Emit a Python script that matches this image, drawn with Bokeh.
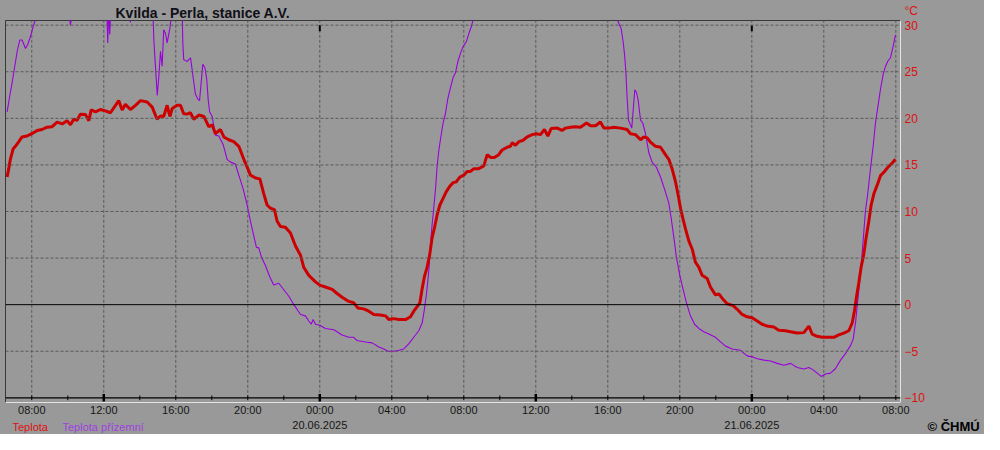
from bokeh.plotting import figure
from bokeh.layouts import column
from bokeh.models import Range1d, FixedTicker, Span, Label
from bokeh.embed import file_html
from bokeh.resources import INLINE

TITLE = "Kvilda - Perla, stanice A.V."
SERIES_NAMES = ["Teplota", "Teplota přízemní"]
UNIT = "°C"
COPYRIGHT = "© ČHMÚ"

# hours since 19.06.2025 00:00
tick_hours = [8, 12, 16, 20, 24, 28, 32, 36, 40, 44, 48, 52, 56]
tick_labels = ["08:00", "12:00", "16:00", "20:00", "00:00", "04:00",
               "08:00", "12:00", "16:00", "20:00", "00:00", "04:00", "08:00"]
date_hours = [24, 48]
date_labels = ["20.06.2025", "21.06.2025"]
y_ticks = [-10, -5, 0, 5, 10, 15, 20, 25, 30]

teplota_h = [6.63, 6.72, 6.81, 6.96, 7.09, 7.28, 7.46, 7.74, 8.0, 8.30, 8.57, 8.85, 9.13, 9.41, 9.69,
             9.96, 10.15, 10.33, 10.52, 10.70, 10.98, 11.17, 11.30, 11.54, 11.81, 12.09, 12.37, 12.65,
             12.83, 13.02, 13.20, 13.48, 13.76, 14.04, 14.41, 14.69, 14.96, 15.15, 15.33, 15.52, 15.67,
             15.80, 16.07, 16.26, 16.44, 16.63, 16.81, 17.0, 17.28, 17.56, 17.83, 18.02, 18.20, 18.48,
             18.67, 18.94, 19.22, 19.50, 19.78, 20.0, 20.15, 20.43, 20.67, 20.89, 21.07, 21.26, 21.48,
             21.63, 21.81, 22.09, 22.37, 22.65, 22.93, 23.11, 23.39, 23.76, 24.0, 24.31, 24.69, 24.96,
             25.24, 25.61, 25.89, 26.11, 26.44, 26.72, 27.0, 27.37, 27.65, 27.83, 28.11, 28.39, 28.76,
             29.04, 29.22, 29.41, 29.56, 29.69, 29.81, 29.96, 30.11, 30.24, 30.37, 30.52, 30.67, 30.85,
             31.02, 31.22, 31.41, 31.59, 31.78, 32.0, 32.19, 32.37, 32.56, 32.83, 33.11, 33.30, 33.48,
             33.70, 33.94, 34.13, 34.41, 34.59, 34.69, 34.87, 35.06, 35.30, 35.52, 35.80, 36.04, 36.26,
             36.48, 36.67, 36.85, 37.19, 37.46, 37.65, 37.93, 38.20, 38.48, 38.82, 39.04, 39.32, 39.59,
             39.78, 40.06, 40.33, 40.70, 41.07, 41.26, 41.54, 41.82, 42.00, 42.19, 42.37, 42.65, 42.93,
             43.20, 43.39, 43.57, 43.76, 43.91, 44.04, 44.19, 44.32, 44.50, 44.69, 44.87, 45.06, 45.24,
             45.52, 45.70, 45.98, 46.17, 46.35, 46.63, 46.96, 47.19, 47.46, 47.74, 48.02, 48.30, 48.57,
             48.85, 49.22, 49.50, 49.87, 50.15, 50.52, 50.89, 51.17, 51.35, 51.63, 51.91, 52.28, 52.56,
             52.83, 53.11, 53.39, 53.58, 53.70, 53.82, 53.94, 54.07, 54.22, 54.35, 54.50, 54.63, 54.78,
             54.96, 55.15, 55.37, 55.56, 55.80, 55.98]
teplota = [13.7, 14.6, 15.6, 16.7, 17.0, 17.5, 18.0, 18.1, 18.35, 18.7, 18.8, 19.05, 19.1, 19.6, 19.4,
           19.75, 19.3, 19.9, 19.8, 20.45, 20.4, 19.75, 20.9, 20.7, 20.95, 20.8, 20.6, 21.4,
           21.9, 20.9, 21.5, 20.95, 21.4, 21.9, 21.75, 21.2, 19.9, 20.25, 20.2, 21.4, 20.2,
           21.05, 21.4, 21.4, 20.5, 20.45, 20.6, 19.9, 20.35, 20.2, 19.1, 19.3, 18.35, 18.8,
           18.0, 17.7, 17.5, 17.0, 15.6, 14.6, 13.9, 13.6, 13.5, 11.9, 10.7, 10.35, 10.2,
           8.95, 8.4, 8.3, 7.7, 6.3, 5.3, 4.0, 3.15, 2.45, 2.1, 1.9, 1.65, 1.2,
           0.8, 0.35, 0.2, -0.35, -0.45, -0.7, -1.05, -1.1, -1.2, -1.6, -1.5, -1.6, -1.6,
           -1.3, -0.7, -0.2, 0.2, 1.75, 3.0, 4.0, 5.4, 7.2, 8.25, 9.65, 10.7, 11.4,
           12.1, 12.7, 13.1, 13.2, 13.7, 13.9, 14.3, 14.3, 14.6, 14.6, 14.9, 16.1, 15.8,
           15.8, 16.1, 16.6, 16.9, 17.0, 17.4, 17.1, 17.5, 17.65, 18.0, 18.25, 18.35, 18.25,
           18.8, 18.1, 18.9, 18.95, 18.7, 18.95, 19.05, 19.1, 19.05, 19.5, 19.2, 19.2, 19.6,
           18.95, 18.95, 19.05, 18.95, 18.8, 18.35, 18.25, 17.7, 18.0, 17.9, 17.45, 17.0, 16.9,
           16.1, 15.6, 14.6, 13.2, 11.75, 10.35, 9.1, 8.1, 6.85, 5.95, 4.55, 4.0, 3.15,
           2.8, 1.9, 1.05, 1.15, 0.7, 0.1, -0.1, -0.5, -1.05, -1.3, -1.4, -1.75, -2.1,
           -2.3, -2.4, -2.75, -2.8, -2.9, -3.05, -3.0, -2.3, -3.15, -3.4, -3.5, -3.5, -3.5,
           -3.25, -3.05, -2.8, -1.95, -0.7, 0.9, 2.3, 4.0, 5.4, 7.2, 8.95, 10.7, 11.9,
           12.8, 13.85, 14.3, 14.75, 15.2, 15.6]

prizemni_h = [6.63, 6.78, 6.91, 7.04, 7.19, 7.33, 7.46, 7.65, 7.78, 7.93, 8.07, 8.20, 8.5, 9.0, 9.6,
              10.05, 10.15, 10.25, 10.8, 11.4, 12.0, 12.18, 12.22, 12.27, 12.33, 12.4, 13.0, 13.4,
              13.48, 13.55, 14.2, 14.6, 14.74, 14.78, 14.87, 14.97, 15.06, 15.15, 15.24, 15.33, 15.43,
              15.52, 15.67, 15.76, 16.05, 16.36, 16.39, 16.44, 16.63, 16.82, 16.97, 17.09, 17.22, 17.32,
              17.41, 17.50, 17.62, 17.72, 17.80, 17.88, 18.02, 18.20, 18.39, 18.63, 18.85, 19.04, 19.31,
              19.50, 19.74, 19.96, 20.19, 20.48, 20.61, 20.76, 20.98, 21.22, 21.44, 21.72, 22.0, 22.28,
              22.56, 22.93, 23.20, 23.39, 23.52, 23.63, 23.76, 24.0, 24.31, 24.78, 25.24, 25.61, 25.89,
              26.07, 26.54, 26.91, 27.28, 27.56, 27.78, 28.11, 28.39, 28.67, 28.94, 29.22, 29.50, 29.69,
              29.81, 29.93, 30.06, 30.15, 30.24, 30.33, 30.43, 30.52, 30.61, 30.70, 30.85, 30.98, 31.11,
              31.26, 31.41, 31.54, 31.67, 31.82, 31.96, 32.15, 32.28, 32.41, 32.52, 33.0, 34.0, 35.0,
              36.0, 37.0, 38.0, 39.0, 40.0, 40.52, 40.74, 40.85, 40.93, 41.0, 41.07, 41.15, 41.26,
              41.33, 41.41, 41.50, 41.59, 41.69, 41.82, 41.94, 42.09, 42.28, 42.46, 42.70, 42.93, 43.20,
              43.39, 43.52, 43.67, 43.81, 44.0, 44.19, 44.37, 44.59, 44.82, 45.06, 45.33, 45.61, 45.98,
              46.26, 46.54, 46.91, 47.37, 47.74, 48.02, 48.30, 48.67, 49.04, 49.41, 49.78, 50.15, 50.52,
              50.89, 51.17, 51.41, 51.63, 51.85, 52.09, 52.37, 52.65, 52.93, 53.20, 53.48, 53.63, 53.76,
              53.89, 54.04, 54.17, 54.31, 54.44, 54.59, 54.74, 54.87, 55.0, 55.15, 55.30, 55.43, 55.56,
              55.70, 55.85, 55.98]
prizemni = [20.7, 22.45, 23.85, 25.4, 27.2, 28.4, 28.4, 27.5, 27.95, 28.8, 29.8, 30.6, 32.5, 34.0, 33.5,
            31.5, 30.0, 31.5, 34.5, 36.0, 35.0, 31.0, 28.1, 31.5, 29.0, 32.0, 36.5, 35.0,
            30.3, 34.5, 35.5, 33.0, 31.0, 28.4, 25.6, 22.45, 24.55, 27.2, 25.6, 29.5, 29.1,
            28.1, 29.65, 31.0, 32.5, 31.0, 28.1, 26.3, 26.1, 26.5, 24.3, 22.6, 22.1, 21.9,
            23.85, 25.8, 25.4, 24.2, 22.0, 20.7, 20.2, 18.2, 18.1, 17.2, 15.6, 15.3, 15.1,
            13.9, 12.45, 10.7, 8.6, 6.15, 6.1, 5.1, 4.2, 3.0, 2.1, 2.3, 1.6, 0.9,
            0.0, -1.05, -1.2, -1.75, -2.1, -1.6, -2.1, -2.2, -2.55, -2.7, -3.25, -3.5, -3.5,
            -3.85, -4.0, -4.1, -4.55, -4.75, -5.0, -5.0, -4.9, -4.75, -4.2, -3.5, -2.8, -1.95,
            -0.5, 1.2, 3.7, 6.5, 8.6, 10.35, 12.45, 14.9, 16.5, 17.7, 19.5, 20.5, 22.1,
            23.3, 24.4, 24.9, 26.1, 27.0, 27.7, 28.25, 29.1, 29.8, 30.6, 32.5, 35.5, 37.5,
            38.5, 38.0, 37.0, 35.0, 32.5, 30.6, 29.65, 28.25, 26.85, 25.1, 22.3, 19.8, 19.3,
            18.95, 20.9, 23.05, 22.8, 21.9, 19.8, 19.5, 18.4, 16.3, 15.3, 14.75, 13.7, 12.1,
            10.9, 9.3, 7.2, 5.1, 3.15, 1.6, 0.2, -1.2, -2.1, -2.55, -2.9, -3.15, -3.5,
            -4.0, -4.45, -4.75, -4.9, -5.5, -5.6, -5.8, -5.95, -6.05, -6.3, -6.5, -6.3, -6.75,
            -6.9, -6.75, -7.0, -7.35, -7.7, -7.45, -7.35, -6.85, -5.95, -5.25, -4.4, -3.7, -1.95,
            0.5, 3.35, 6.5, 10.0, 11.9, 14.55, 17.0, 19.5, 21.2, 23.15, 24.75, 25.6, 26.15,
            26.5, 27.7, 28.95]

RED = "#cc0000"
LABEL_RED = "#dd1111"
PURPLE = "#9900dd"
BG = "#999999"
GRID = "#5a5a5a"
FONT = "Liberation Sans"

W = 984
TOP_H, MAIN_H, BOT_H = 20, 398, 16
FRAME_L, FRAME_R = 5, 900          # frame edges in pixels (column aligns all frames)
X0, X1 = 6.54, 56.26               # hours shown across the frame
BASE_FIX = 4                       # svg alphabetic baseline correction


def strip(h, xr):
    f = figure(width=W, height=h, output_backend="svg", toolbar_location=None, title=None,
               x_range=xr, y_range=Range1d(0, h), x_axis_location=None, y_axis_location="right",
               min_border_left=FRAME_L, min_border_right=W - FRAME_R, min_border_top=0, min_border_bottom=0,
               background_fill_color=BG, border_fill_color=BG, outline_line_color=None,
               styles={"background-color": BG})
    f.xgrid.visible = False
    f.ygrid.visible = False
    return f


def side_text(f, ypos, text, color, size, bold=False, align="right", standoff=4):
    ax = f.yaxis[0]
    ax.ticker = FixedTicker(ticks=[ypos])
    ax.major_label_overrides = {ypos: text}
    ax.major_tick_out = 0
    ax.major_tick_in = 0
    ax.major_tick_line_color = None
    ax.minor_tick_line_color = None
    ax.axis_line_color = None
    ax.major_label_text_color = color
    ax.major_label_text_font = FONT
    ax.major_label_text_font_size = size
    ax.major_label_text_font_style = "bold" if bold else "normal"
    ax.major_label_text_align = align
    ax.major_label_standoff = standoff


def lab(f, h, x, base_from_top, text, color, size, bold=False, align="left", x_units="screen"):
    f.add_layout(Label(x=x, y=h - base_from_top + BASE_FIX, x_units=x_units, y_units="screen", text=text,
                       text_color=color, text_font=FONT, text_font_size=size,
                       text_font_style="bold" if bold else "normal",
                       text_align=align, text_baseline="alphabetic"))


# ---- main chart
p = figure(width=W, height=MAIN_H, output_backend="svg", toolbar_location=None, title=None,
           x_range=Range1d(X0, X1), y_range=Range1d(-10.5, 30.5),
           y_axis_location="right",
           min_border_left=FRAME_L, min_border_top=0, min_border_right=W - FRAME_R, min_border_bottom=15,
           background_fill_color=BG, border_fill_color=BG,
           outline_line_color="#383838", outline_line_width=1,
           styles={"background-color": BG})
p.xgrid.visible = False
p.ygrid.visible = False

p.segment(x0=tick_hours, y0=[-10] * len(tick_hours), x1=tick_hours, y1=[30.5] * len(tick_hours),
          line_color=GRID, line_width=1, line_dash="3 2")
for yv in y_ticks:
    if yv in (-10, 0):
        continue
    p.add_layout(Span(location=yv, dimension="width", line_color=GRID, line_width=1, line_dash="3 2"))
p.add_layout(Span(location=0, dimension="width", line_color="black", line_width=1))
p.add_layout(Span(location=-10, dimension="width", line_color="black", line_width=1.3))

minor_ticks = list(range(8, 57, 2))
p.segment(x0=minor_ticks, y0=[-10.25] * len(minor_ticks), x1=minor_ticks, y1=[-9.75] * len(minor_ticks),
          line_color="black", line_width=1)
big_ticks = [12, 24, 36, 48]
p.segment(x0=big_ticks, y0=[-10.4] * len(big_ticks), x1=big_ticks, y1=[-9.6] * len(big_ticks),
          line_color="black", line_width=2.5)
p.segment(x0=date_hours, y0=[30.0] * 2, x1=date_hours, y1=[29.35] * 2, line_color="black", line_width=2)

p.line(prizemni_h, prizemni, line_color=PURPLE, line_width=1.1)
p.line(teplota_h, teplota, line_color=RED, line_width=3)

ya = p.yaxis[0]
ya.ticker = FixedTicker(ticks=y_ticks)
ya.major_tick_out = 0
ya.major_tick_in = 0
ya.minor_tick_line_color = None
ya.major_tick_line_color = None
ya.axis_line_color = "#e4e4e4"
ya.major_label_text_color = LABEL_RED
ya.major_label_text_font = FONT
ya.major_label_text_font_size = "12px"
ya.major_label_text_align = "right"
ya.major_label_standoff = 4

xa = p.xaxis[0]
xa.ticker = FixedTicker(ticks=tick_hours)
xa.major_label_overrides = {h: t for h, t in zip(tick_hours, tick_labels)}
xa.major_tick_out = 0
xa.major_tick_in = 0
xa.major_tick_line_color = None
xa.minor_tick_line_color = None
xa.axis_line_color = "#e4e4e4"
xa.major_label_text_color = "#151515"
xa.major_label_text_font = FONT
xa.major_label_text_font_size = "11px"
xa.major_label_standoff = 1

# ---- top strip: title and unit
top = strip(TOP_H, p.x_range)
lab(top, TOP_H, 115 - FRAME_L, 16, TITLE, "#101018", "14px", bold=True)
side_text(top, 10, UNIT, LABEL_RED, "12px", align="right", standoff=4)

# ---- bottom strip: dates, legend, copyright
bot = strip(BOT_H, p.x_range)
for h, d in zip(date_hours, date_labels):
    lab(bot, BOT_H, h, 10, d, "#151515", "11px", align="center", x_units="data")
lab(bot, BOT_H, 12 - FRAME_L, 12, SERIES_NAMES[0], LABEL_RED, "11px")
lab(bot, BOT_H, 62 - FRAME_L, 12, SERIES_NAMES[1], "#a040e0", "11px")
side_text(bot, 8, COPYRIGHT, "#000000", "13px", bold=True, align="left", standoff=27)

layout = column(top, p, bot, spacing=0, styles={"background-color": BG})
open("out.html", "w").write(file_html(layout, INLINE))
